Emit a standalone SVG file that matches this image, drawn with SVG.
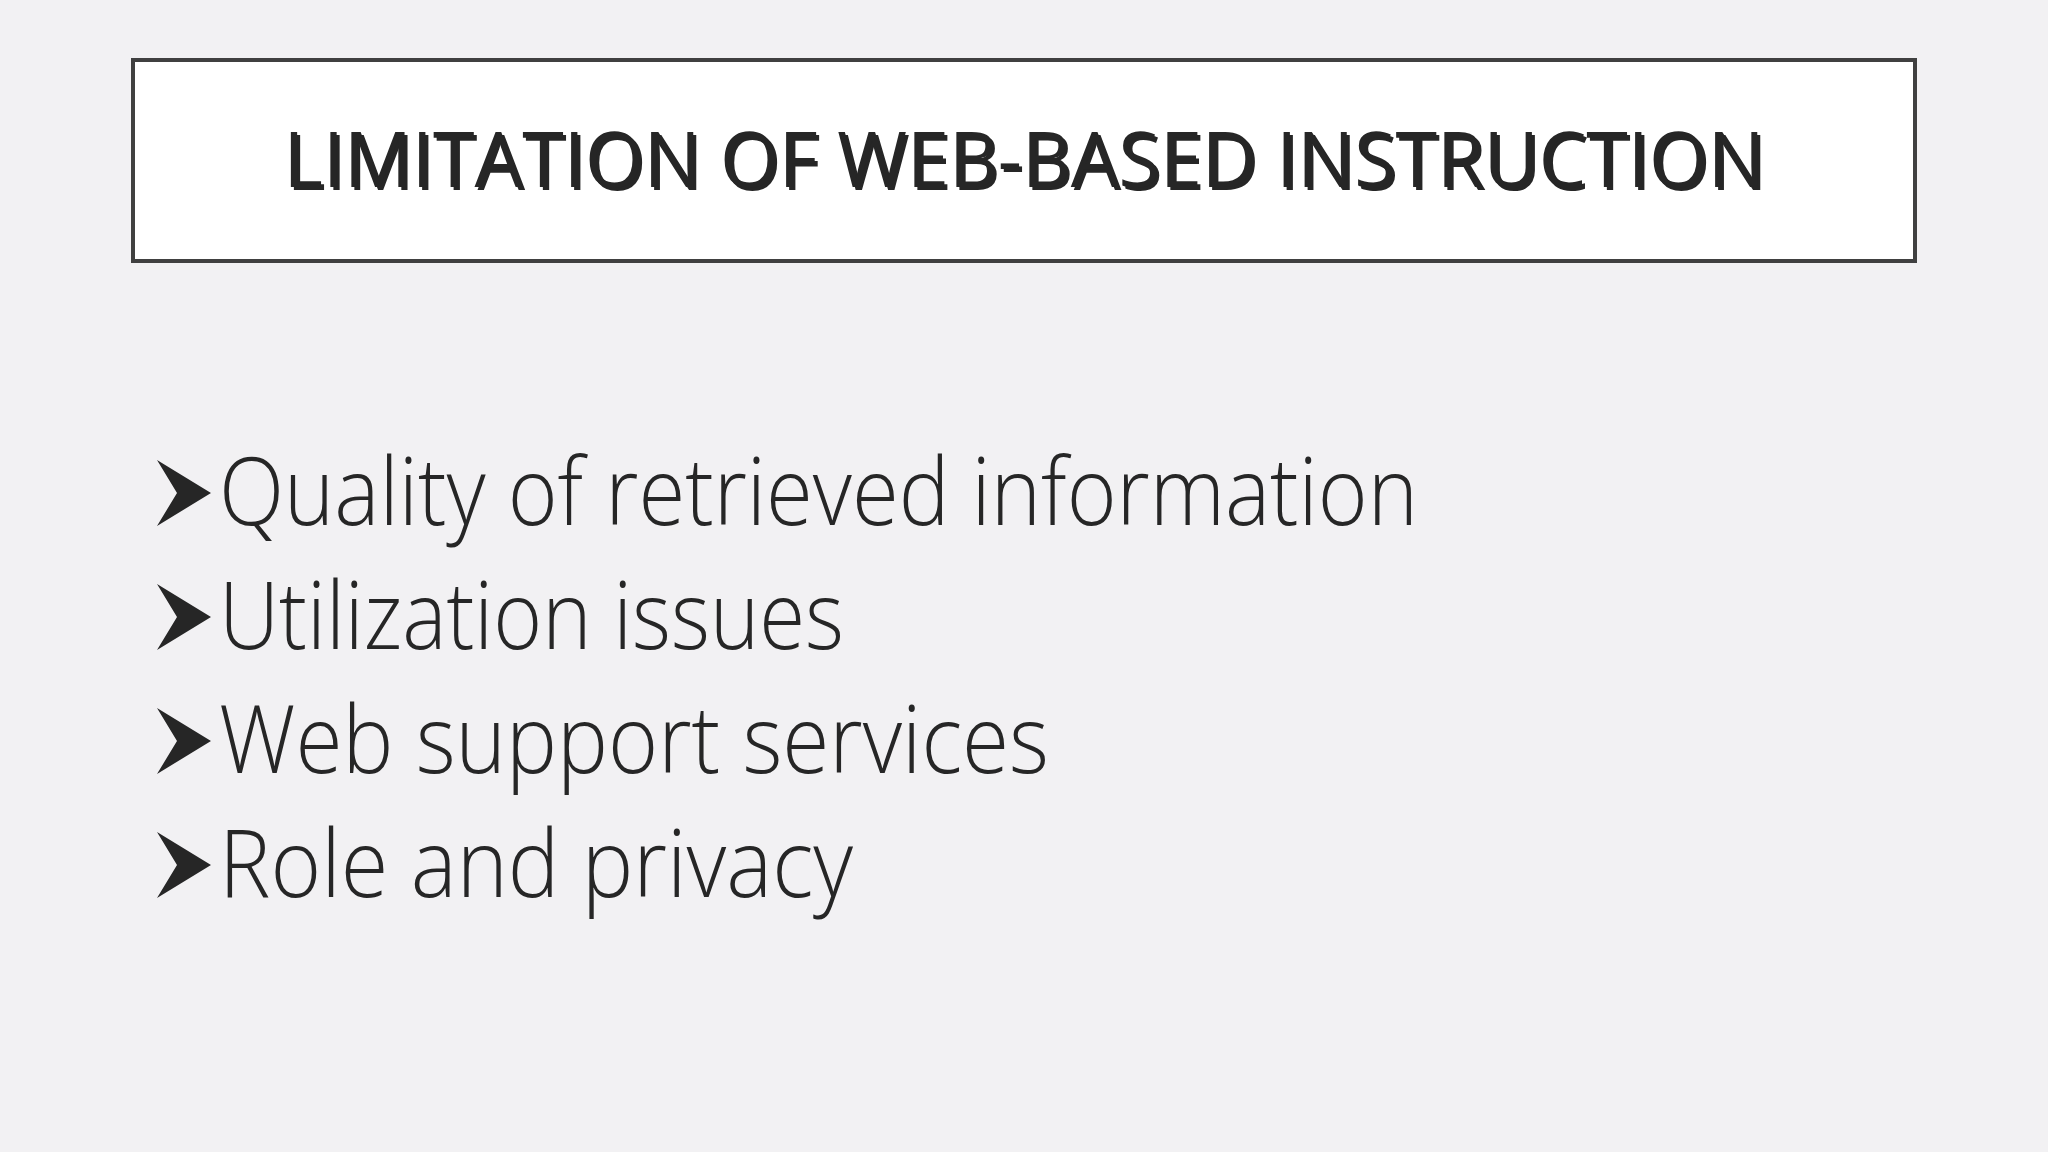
<svg xmlns="http://www.w3.org/2000/svg" width="2048" height="1152" viewBox="0 0 2048 1152">
<style>
.t{font-family:"Open Sans","Noto Sans","Liberation Sans",sans-serif;fill:#262626}
.b{font-size:94px;font-weight:300}
</style>
<defs>
<path id="arr" d="M0,0 L54,33 L0,66 L20,33 Z" fill="#262626"/>
</defs>
<rect width="2048" height="1152" fill="#f2f1f3"/>
<g id="title">
<rect x="133" y="60" width="1782" height="201" fill="#ffffff" stroke="#404040" stroke-width="4"/>
<text class="t" x="1024" y="187" font-size="76" text-anchor="middle" textLength="1481" lengthAdjust="spacingAndGlyphs" fill="#bbb" transform="translate(3,3)">LIMITATION OF WEB-BASED INSTRUCTION</text>
<text class="t" x="1024" y="187" font-size="76" text-anchor="middle" textLength="1481" lengthAdjust="spacingAndGlyphs">LIMITATION OF WEB-BASED INSTRUCTION</text>
</g>
<g id="bullets">
<use href="#arr" x="157" y="460"/>
<text class="t b" x="219" y="525" textLength="1199" lengthAdjust="spacingAndGlyphs">Quality of retrieved information</text>
<use href="#arr" x="157" y="584"/>
<text class="t b" x="219" y="649" textLength="625" lengthAdjust="spacingAndGlyphs">Utilization issues</text>
<use href="#arr" x="157" y="708"/>
<text class="t b" x="219" y="773" textLength="830" lengthAdjust="spacingAndGlyphs">Web support services</text>
<use href="#arr" x="157" y="832"/>
<text class="t b" x="219" y="897" textLength="634" lengthAdjust="spacingAndGlyphs">Role and privacy</text>
</g>
</svg>
